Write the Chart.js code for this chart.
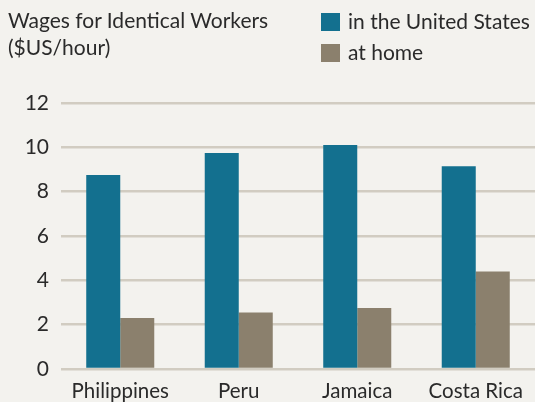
<!DOCTYPE html>
<html>
<head>
<meta charset="utf-8">
<script src="https://cdn.jsdelivr.net/npm/chart.js@4.4.0/dist/chart.umd.min.js"></script>
<style>
  html, body { margin: 0; padding: 0; background: #f3f2ee; }
  #wrap { position: relative; width: 535px; height: 402px; font-family: Lato, sans-serif; color: #2a2a2a; }
  #titulo { position: absolute; left: 8px; top: 6px; font-size: 21px; line-height: 27px; }
  #legenda { position: absolute; left: 321px; top: 5px; font-size: 21px; line-height: 31px; }
  #legenda span.box { display: inline-block; width: 19px; height: 18px; margin-right: 8px; vertical-align: -2px; }
  canvas { position: absolute; left: 0; top: 0; }
</style>
</head>
<body>
<div id="wrap">
  <canvas id="chart-div" width="535" height="402"></canvas>
  <div id="titulo">Wages for Identical Workers<br>($US/hour)</div>
  <div id="legenda">
    <div><span class="box" style="background:#13708f"></span>in the United States</div>
    <div><span class="box" style="background:#8b806d"></span>at home</div>
  </div>
</div>
<script>
var paises = ['Philippines', 'Peru', 'Jamaica', 'Costa Rica'];
var salarioEUA = [8.75, 9.75, 10.1, 9.15];
var salarioCasa = [2.3, 2.55, 2.75, 4.4];
var ticksY = [0, 2, 4, 6, 8, 10, 12];

var ctx = document.getElementById('chart-div').getContext('2d');

var config = {
    type: 'bar',
    data: {
        labels: paises,
        datasets: [{
            label: 'in the United States',
            data: salarioEUA,
            backgroundColor: '#13708f',
            categoryPercentage: 0.574,
            barPercentage: 1
        }, {
            label: 'at home',
            data: salarioCasa,
            backgroundColor: '#8b806d',
            categoryPercentage: 0.574,
            barPercentage: 1
        }]
    },
    options: {
        responsive: false,
        animation: false,
        layout: { padding: { top: 103, right: 0, bottom: 0, left: 0 } },
        plugins: {
            legend: { display: false },
            title: { display: false },
            tooltip: { enabled: false }
        },
        scales: {
            x: {
                grid: { display: false },
                border: { display: false },
                ticks: { color: '#2a2a2a', font: { family: 'Lato', size: 20.5 }, padding: 2 },
                afterFit: function (scale) { scale.height = 33; }
            },
            y: {
                min: 0,
                max: 12,
                afterBuildTicks: function (scale) {
                    scale.ticks = ticksY.map(function (v) { return { value: v }; });
                },
                grid: { color: '#d1ccc1', lineWidth: 2.5, drawTicks: false },
                border: { display: false },
                ticks: { color: '#2a2a2a', font: { family: 'Lato', size: 21 }, padding: 12 },
                afterFit: function (scale) { scale.width = 61; }
            }
        }
    }
};

var chart = new Chart(ctx, config);
</script>
</body>
</html>
